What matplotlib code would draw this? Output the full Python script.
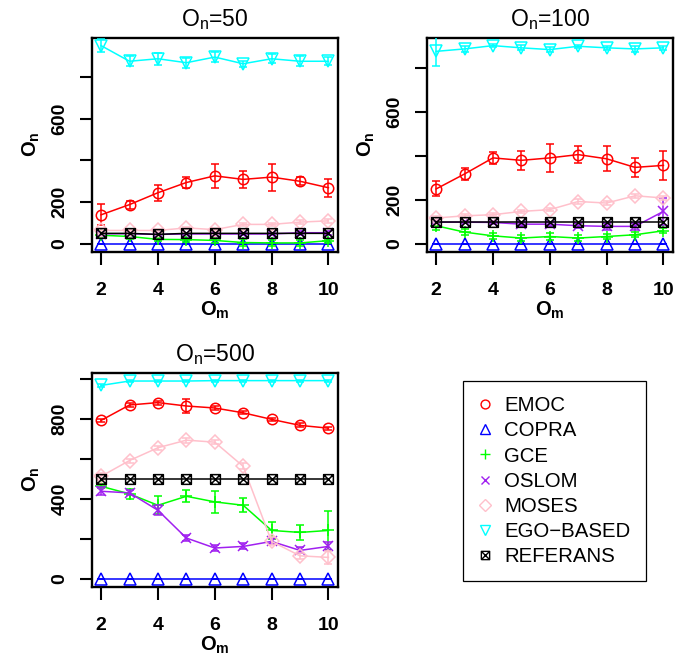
import matplotlib
matplotlib.use("Agg")
import matplotlib.pyplot as plt
from matplotlib.lines import Line2D
from matplotlib.path import Path
import numpy as np

plt.rcParams['font.family'] = ['Liberation Sans', 'DejaVu Sans']
plt.rcParams['mathtext.fontset'] = 'custom'
plt.rcParams['mathtext.rm'] = 'Liberation Sans'
plt.rcParams['mathtext.bf'] = 'Liberation Sans:bold'
plt.rcParams['mathtext.it'] = 'Liberation Sans:italic'

# ---------------- data ----------------
om = [2, 3, 4, 5, 6, 7, 8, 9, 10]
methods = ["EMOC", "COPRA", "GCE", "OSLOM", "MOSES", "EGO\u2212BASED", "REFERANS"]
panel_titles = [50, 100, 500]

# On = 50
emoc_50 = [139, 188, 245, 294, 326, 309, 320, 300, 269]
emoc_50_err = [50, 19, 39, 26, 58, 41, 65, 19, 44]
copra_50 = [0, 0, 0, 0, 0, 0, 0, 0, 0]
copra_50_err = [0, 0, 0, 0, 0, 0, 0, 0, 0]
gce_50 = [41, 35, 21, 20, 16, 6, 4, 4, 15]
gce_50_err = [12, 10, 10, 10, 10, 15, 15, 15, 10]
oslom_50 = [48, 48, 45, 47, 47, 47, 47, 53, 53]
oslom_50_err = [6, 6, 6, 6, 6, 6, 6, 10, 10]
moses_50 = [64, 64, 64, 76, 68, 93, 93, 104, 110]
moses_50_err = [10, 6, 6, 6, 6, 6, 6, 10, 10]
ego_50 = [951, 876, 888, 869, 896, 864, 888, 876, 876]
ego_50_err = [31, 25, 28, 25, 25, 15, 22, 25, 19]
ref_50 = [50, 50, 45, 50, 50, 50, 50, 50, 50]

# On = 100
emoc_100 = [249, 317, 390, 379, 390, 405, 386, 347, 356]
emoc_100_err = [34, 26, 26, 44, 62, 38, 57, 44, 66]
copra_100 = [0, 0, 0, 0, 0, 0, 0, 0, 0]
copra_100_err = [0, 0, 0, 0, 0, 0, 0, 0, 0]
gce_100 = [82, 53, 36, 26, 33, 26, 33, 41, 59]
gce_100_err = [18, 15, 15, 15, 15, 12, 12, 12, 12]
oslom_100 = [98, 98, 97, 89, 89, 82, 79, 79, 147]
oslom_100_err = [5, 5, 5, 12, 12, 12, 15, 15, 60]
moses_100 = [117, 127, 132, 147, 155, 192, 185, 218, 208]
moses_100_err = [8, 8, 8, 8, 8, 10, 10, 10, 10]
ego_100 = [874, 885, 900, 890, 882, 897, 890, 885, 890]
ego_100_err = [66, 12, 8, 12, 12, 8, 10, 12, 8]
ref_100 = [100, 100, 100, 100, 100, 100, 100, 100, 100]

# On = 500
emoc_500 = [793, 870, 882, 865, 855, 831, 798, 768, 754]
emoc_500_err = [8, 10, 10, 33, 12, 8, 8, 10, 8]
copra_500 = [0, 0, 0, 0, 0, 0, 0, 0, 0]
copra_500_err = [0, 0, 0, 0, 0, 0, 0, 0, 0]
gce_500 = [463, 425, 368, 413, 385, 368, 242, 232, 242]
gce_500_err = [10, 25, 45, 30, 54, 35, 42, 39, 96]
oslom_500 = [438, 430, 343, 204, 154, 162, 187, 142, 162]
oslom_500_err = [20, 12, 25, 15, 15, 15, 15, 15, 20]
moses_500 = [513, 592, 656, 694, 684, 563, 187, 115, 107]
moses_500_err = [15, 10, 10, 12, 10, 15, 20, 15, 33]
ego_500 = [968, 990, 990, 990, 992, 992, 992, 992, 992]
ego_500_err = [8, 5, 5, 5, 5, 5, 5, 5, 5]
ref_500 = [500, 500, 500, 500, 500, 500, 500, 500, 500]

panels = [
    [(emoc_50, emoc_50_err), (copra_50, copra_50_err), (gce_50, gce_50_err),
     (oslom_50, oslom_50_err), (moses_50, moses_50_err), (ego_50, ego_50_err),
     (ref_50, None)],
    [(emoc_100, emoc_100_err), (copra_100, copra_100_err), (gce_100, gce_100_err),
     (oslom_100, oslom_100_err), (moses_100, moses_100_err), (ego_100, ego_100_err),
     (ref_100, None)],
    [(emoc_500, emoc_500_err), (copra_500, copra_500_err), (gce_500, gce_500_err),
     (oslom_500, oslom_500_err), (moses_500, moses_500_err), (ego_500, ego_500_err),
     (ref_500, None)],
]
ytick_vals = [[0, 200, 400, 600, 800], [0, 200, 400, 600, 800],
              [0, 200, 400, 600, 800, 1000]]
ytick_labels = [["0", "200", "", "600", ""], ["0", "200", "", "600", ""],
                ["0", "", "400", "", "800", ""]]
xtick_vals = [2, 4, 6, 8, 10]

# ---------------- styles ----------------
colors = ["#FF0000", "#0000FF", "#00FF00", "#A020F0", "#FFC0CB", "#00FFFF", "#000000"]
boxx = Path([(-1, -1), (1, -1), (1, 1), (-1, 1), (-1, -1), (-1, -1), (1, 1), (-1, 1), (1, -1)],
            [Path.MOVETO, Path.LINETO, Path.LINETO, Path.LINETO, Path.LINETO,
             Path.MOVETO, Path.LINETO, Path.MOVETO, Path.LINETO])
markers = ["o", "^", "+", "x", "D", "v", boxx]
msizes = [7.5, 8.5, 9, 7, 7, 8.5, 7]

W, H = 689, 655
fig = plt.figure(figsize=(W / 100, H / 100), dpi=100)
boxes = [(92, 37.7, 245.5, 214), (427, 37.7, 245.5, 214), (92, 372.7, 245.5, 214)]

for p, (series, box) in enumerate(zip(panels, boxes)):
    x0, y0, w, h = box
    ax = fig.add_axes([x0 / W, 1 - (y0 + h) / H, w / W, h / H])
    for i, (vals, err) in enumerate(series):
        ax.errorbar(om, vals, yerr=err, color=colors[i], marker=markers[i],
                    ms=msizes[i], mfc='none', mec=colors[i], mew=1.1, lw=1.1,
                    elinewidth=1.1, capsize=3, capthick=1.1, zorder=2 + i)
    allv = [v for vals, _ in series for v in vals]
    lo, hi = min(allv), max(allv)
    pad = 0.04 * (hi - lo)
    ax.set_ylim(lo - pad, hi + pad)
    ax.set_xlim(2 - 0.32, 10 + 0.32)
    ax.set_xticks(xtick_vals)
    ax.set_xticklabels([str(v) for v in xtick_vals], fontweight='bold', fontsize=14)
    ax.set_yticks(ytick_vals[p])
    ax.set_yticklabels(ytick_labels[p], fontweight='bold', fontsize=14,
                       rotation=90, va='center')
    ax.tick_params(axis='both', length=9, width=1.5, direction='out')
    ax.tick_params(axis='x', pad=12.5)
    ax.tick_params(axis='y', pad=8)
    for s in ax.spines.values():
        s.set_linewidth(1.7)
    ax.set_title('O$_{\\mathrm{n}}$=%d' % panel_titles[p], fontsize=16.5, pad=8)
    ax.set_xlabel('O$_{\\mathbf{m}}$', fontsize=14.5, fontweight='bold', labelpad=0.5)
    ax.set_ylabel('O$_{\\mathbf{n}}$', fontsize=14.5, fontweight='bold', labelpad=6.5)

handles = [Line2D([], [], color=colors[i], marker=markers[i], ls='none',
                  ms=msizes[i] * 0.85, mfc='none', mec=colors[i], mew=1.0)
           for i in range(len(methods))]
fig.legend(handles, methods, loc='upper left',
           bbox_to_anchor=(462.7 / W, 1 - 381 / H), bbox_transform=fig.transFigure,
           borderaxespad=0, frameon=True, fancybox=False, edgecolor='black',
           framealpha=1, fontsize=14.7, labelspacing=0.3, borderpad=0.75,
           handlelength=0.67, handletextpad=0.6)
fig.legends[0].get_frame().set_linewidth(0.9)

fig.savefig("out.png", dpi=100)
